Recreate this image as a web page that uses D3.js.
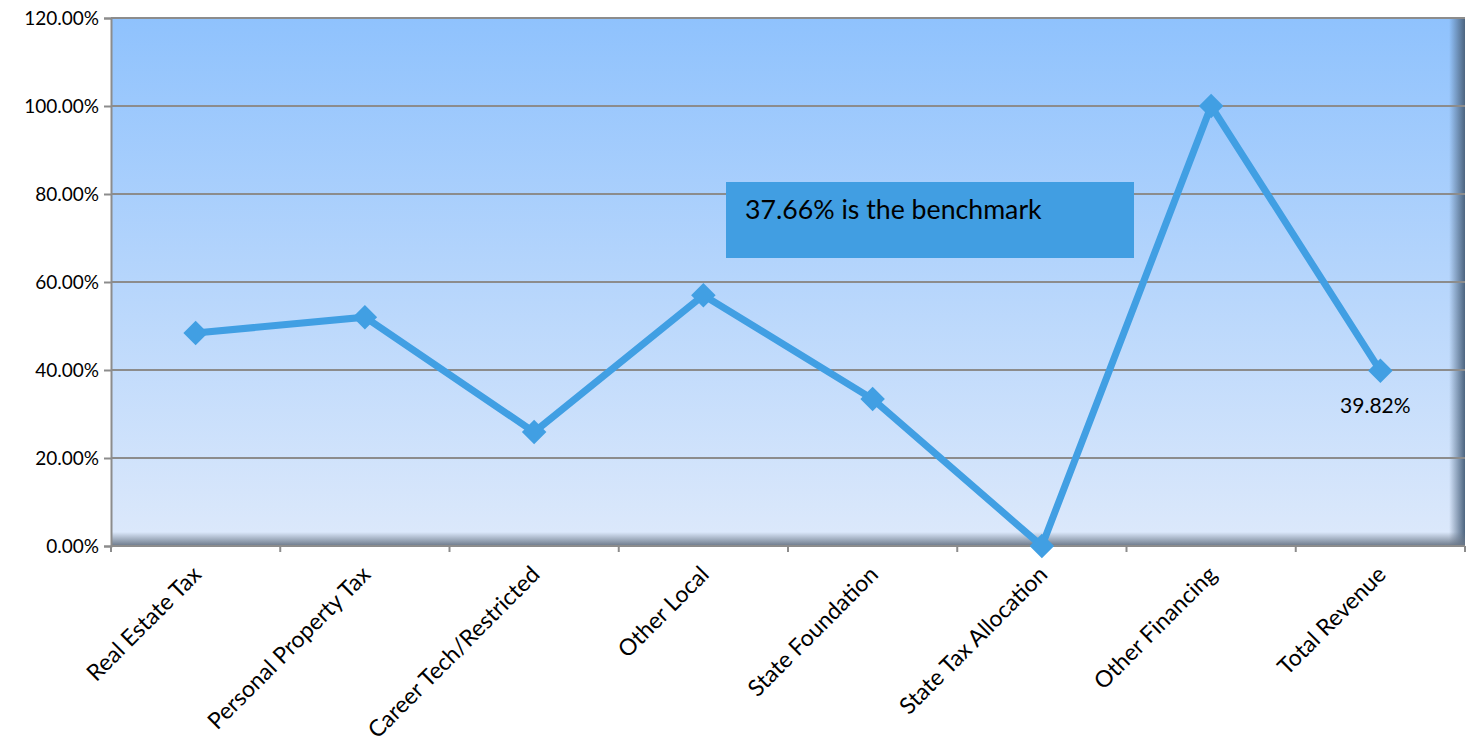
<!DOCTYPE html>
<html>
<head>
<meta charset="utf-8">
<script src="https://cdn.jsdelivr.net/npm/d3@7"></script>
<style>
  body { margin: 0; background: #fff; }
  text { font-family: Lato, "Open Sans", sans-serif; fill: #000; }
</style>
</head>
<body>
<div id="chart"></div>
<script>
// chart data
var categories = ["Real Estate Tax", "Personal Property Tax", "Career Tech/Restricted", "Other Local",
  "State Foundation", "State Tax Allocation", "Other Financing", "Total Revenue"];
var values = [48.4, 52.0, 25.9, 57.0, 33.4, 0.0, 100.0, 39.82];
var yTicks = [0, 20, 40, 60, 80, 100, 120];
var noteText = "37.66% is the benchmark";
var labelledIndex = 7;

var svgWidth = 1469;
var svgHeight = 744;
var margin = { top: 18, right: 4, bottom: 198, left: 111 };
var width = svgWidth - margin.left - margin.right;
var height = svgHeight - margin.top - margin.bottom;

var svg = d3.select("#chart").append("svg")
  .attr("width", svgWidth)
  .attr("height", svgHeight);

var defs = svg.append("defs");
var bg = defs.append("linearGradient").attr("id", "bg")
  .attr("x1", 0).attr("y1", 0).attr("x2", 0).attr("y2", 1);
bg.append("stop").attr("offset", "0%").attr("stop-color", "#8fc2fd");
bg.append("stop").attr("offset", "100%").attr("stop-color", "#dde9fb");

var shadowB = defs.append("linearGradient").attr("id", "shB")
  .attr("x1", 0).attr("y1", 0).attr("x2", 0).attr("y2", 1);
shadowB.append("stop").attr("offset", "0%").attr("stop-color", "#6b7889").attr("stop-opacity", 0);
shadowB.append("stop").attr("offset", "100%").attr("stop-color", "#6b7889").attr("stop-opacity", 1);

var shadowR = defs.append("linearGradient").attr("id", "shR")
  .attr("x1", 0).attr("y1", 0).attr("x2", 1).attr("y2", 0);
shadowR.append("stop").attr("offset", "0%").attr("stop-color", "#4d6580").attr("stop-opacity", 0);
shadowR.append("stop").attr("offset", "100%").attr("stop-color", "#4d6580").attr("stop-opacity", 1);

var chartGroup = svg.append("g")
  .attr("transform", `translate(${margin.left}, ${margin.top})`);

var xScale = d3.scaleBand().domain(categories).range([0, width]);
var yScale = d3.scaleLinear().domain([0, 120]).range([height, 0]);

// plot background
chartGroup.append("rect")
  .attr("width", width).attr("height", height)
  .attr("fill", "url(#bg)");
chartGroup.append("rect")
  .attr("x", width - 16).attr("width", 16).attr("height", height)
  .attr("fill", "url(#shR)");
chartGroup.append("rect")
  .attr("y", height - 14).attr("width", width).attr("height", 14)
  .attr("fill", "url(#shB)");

// gridlines
chartGroup.selectAll(".grid")
  .data(yTicks.filter(d => d > 0))
  .enter().append("line")
  .attr("x1", 0).attr("x2", width)
  .attr("y1", d => yScale(d)).attr("y2", d => yScale(d))
  .attr("stroke", "#8c8c8c").attr("stroke-width", 2);

// y axis
var leftAxis = d3.axisLeft(yScale).tickValues(yTicks)
  .tickFormat(d => d.toFixed(2) + "%").tickSize(7).tickPadding(5);
var yAxis = chartGroup.append("g").call(leftAxis);
yAxis.select(".domain").attr("stroke", "#8c8c8c").attr("stroke-width", 2);
yAxis.selectAll(".tick line").attr("stroke", "#8c8c8c").attr("stroke-width", 2);
yAxis.selectAll("text").attr("font-size", 19).attr("dy", "0.35em").attr("fill", "#000");

// x axis ticks at category boundaries
var bounds = d3.range(categories.length + 1).map(i => i * xScale.step());
chartGroup.append("line")
  .attr("x1", 0).attr("x2", width).attr("y1", height).attr("y2", height)
  .attr("stroke", "#8c8c8c").attr("stroke-width", 2);
chartGroup.selectAll(".xtick")
  .data(bounds)
  .enter().append("line")
  .attr("x1", d => d).attr("x2", d => d)
  .attr("y1", height).attr("y2", height + 6)
  .attr("stroke", "#8c8c8c").attr("stroke-width", 2);

// category labels
chartGroup.selectAll(".xlabel")
  .data(categories)
  .enter().append("text")
  .attr("transform", d => `translate(${xScale(d) + xScale.bandwidth() / 2 + 7}, ${height + 30}) rotate(-45)`)
  .attr("text-anchor", "end")
  .attr("font-size", 23)
  .text(d => d);

// line
var pts = categories.map((c, i) => [xScale(c) + xScale.bandwidth() / 2, yScale(values[i])]);
chartGroup.append("path")
  .datum(pts)
  .attr("d", d3.line())
  .attr("fill", "none")
  .attr("stroke", "#419fe3")
  .attr("stroke-width", 7)
  .attr("stroke-linejoin", "miter");

chartGroup.selectAll(".marker")
  .data(pts)
  .enter().append("path")
  .attr("d", d3.symbol().type(d3.symbolSquare).size(300))
  .attr("transform", d => `translate(${d[0]}, ${d[1]}) rotate(45)`)
  .attr("fill", "#419fe3");

// data label on last point
chartGroup.append("text")
  .attr("x", pts[labelledIndex][0] - 5)
  .attr("y", pts[labelledIndex][1] + 42)
  .attr("text-anchor", "middle")
  .attr("font-size", 21)
  .text(values[labelledIndex].toFixed(2) + "%");

// benchmark note box
var note = chartGroup.append("g").attr("transform", "translate(615, 164)");
note.append("rect")
  .attr("width", 408).attr("height", 76)
  .attr("fill", "#419ee2");
note.append("text")
  .attr("x", 19).attr("y", 37)
  .attr("font-size", 26.7)
  .text(noteText);
</script>
</body>
</html>
